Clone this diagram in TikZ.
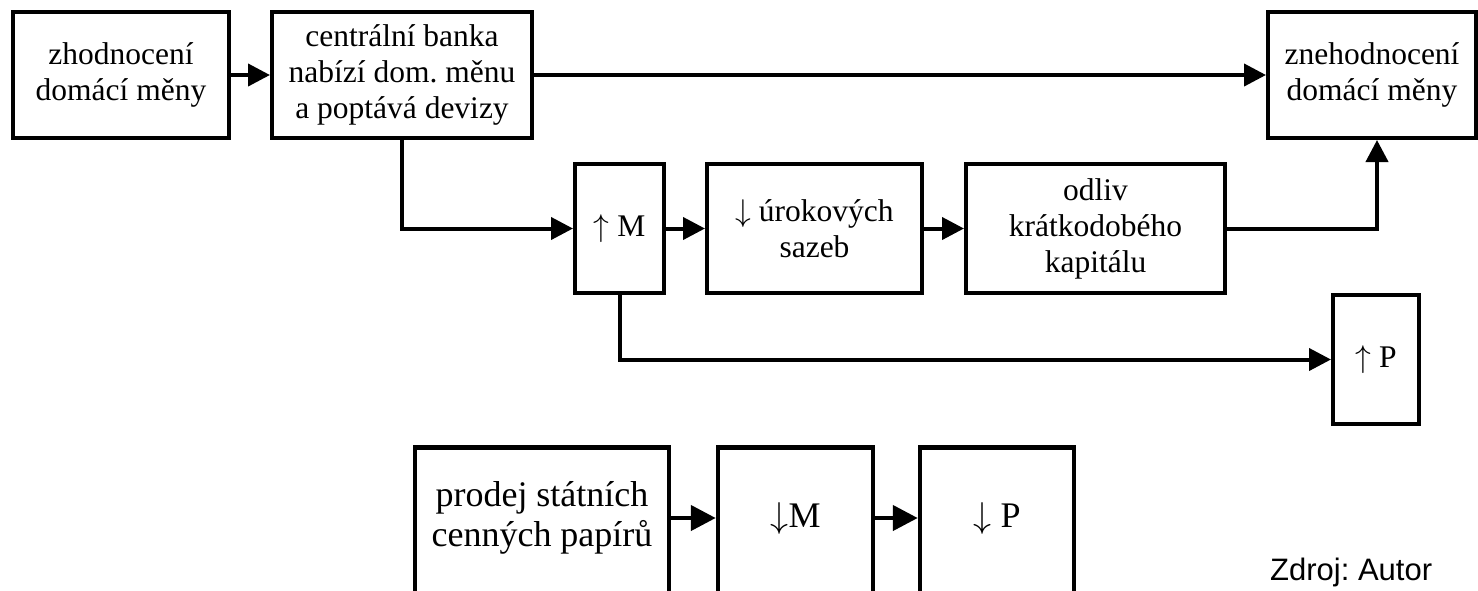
\RequirePackage{fix-cm}
\documentclass[tikz,border=0pt]{standalone}
\usepackage{fontspec}
\setmainfont{Liberation Serif}
\newfontfamily\arialf{Liberation Sans}
\usetikzlibrary{arrows.meta}
\frenchspacing
\newcommand{\upar}{$\uparrow$}
\newcommand{\dnar}{$\downarrow$}
\begin{document}
\begin{tikzpicture}[x=1pt,y=-1pt,
 box/.style={draw, line width=4pt, align=center, inner sep=0pt, font=\fontsize{31.5}{36}\selectfont},
 bigbox/.style={draw, line width=4.5pt, inner sep=0pt},
 bigtxt/.style={align=center, font=\fontsize{36}{40}\selectfont, inner sep=0pt},
 arr/.style={line width=4pt, -{Triangle[length=22pt,width=22pt]}},
 bigarr/.style={line width=4.5pt, -{Triangle[length=25pt,width=25pt]}}]
\useasboundingbox (0,0) rectangle (1478,590);
\clip (0,0) rectangle (1478,590);
% top row
\node[box, minimum width=216pt, minimum height=126pt] (z1) at (121,75) {zhodnocení\\domácí měny};
\node[box, minimum width=260pt, minimum height=126pt] (cb) at (402,75) {centrální banka\\nabízí dom. měnu\\a poptává devizy};
\node[box, minimum width=208pt, minimum height=126pt] (zn) at (1372,75) {znehodnocení\\domácí měny};
% middle row
\node[box, minimum width=89pt, minimum height=129pt] (um) at (619.5,228.5) {\upar\ M};
\node[box, minimum width=215pt, minimum height=129pt] (ur) at (814.5,228.5) {\dnar\ úrokových\\sazeb};
\node[box, minimum width=259pt, minimum height=129pt] (od) at (1095.5,228.5) {odliv\\krátkodobého\\kapitálu};
\node[box, minimum width=86pt, minimum height=129pt] (up) at (1376,359.5) {\upar\ P};
% bottom row
\node[bigbox, minimum width=254pt, minimum height=200pt, anchor=north] (pr) at (542,445) {};
\node[bigbox, minimum width=155pt, minimum height=200pt, anchor=north] (mm) at (795.5,445) {};
\node[bigbox, minimum width=154pt, minimum height=200pt, anchor=north] (mp) at (997,445) {};
\node[bigtxt] (prt) at ([yshift=-73pt]pr.north) {prodej státních\\cenných papírů};
\node[bigtxt] (mmt) at ([yshift=-73pt]mm.north) {\dnar M};
\node[bigtxt] (mpt) at ([yshift=-73pt]mp.north) {\dnar\ P};
\node[anchor=base west, font=\arialf\fontsize{31}{36}\selectfont, inner sep=0pt] (src) at (1270,580) {Zdroj: Autor};
% connectors
\draw[arr] (z1.east) -- (cb.west);
\draw[arr] (cb.east) -- (zn.west);
\draw[arr] (cb.south) |- (um.west);
\draw[arr] (um.east) -- (ur.west);
\draw[arr] (ur.east) -- (od.west);
\draw[arr] (od.east) -| ([xshift=5pt]zn.south);
\draw[arr] (um.south) |- (up.west);
\draw[bigarr] ([yshift=-73pt]pr.north east) -- ([yshift=-73pt]mm.north west);
\draw[bigarr] ([yshift=-73pt]mm.north east) -- ([yshift=-73pt]mp.north west);
\end{tikzpicture}
\end{document}
